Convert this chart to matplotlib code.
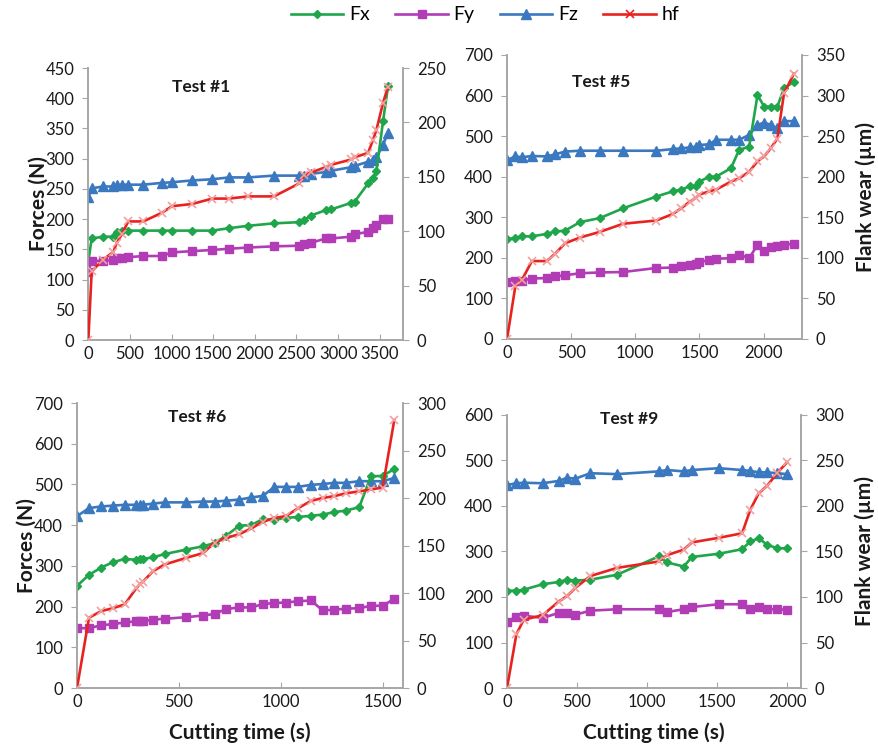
import matplotlib
matplotlib.use("Agg")
import matplotlib.pyplot as plt
from matplotlib.lines import Line2D

plt.rcParams['font.family'] = ['Lato', 'DejaVu Sans']

# ---------------- Test #1 ----------------
t1_time = [0, 40, 180, 300, 340, 400, 480, 660, 885, 1005, 1245, 1490, 1690, 1920, 2230, 2535, 2595,
           2675, 2855, 2915, 3160, 3200, 3360, 3420, 3460, 3540, 3600]
t1_fx = [130, 168, 171, 171, 179, 181, 181, 181, 181, 181, 181, 181, 185, 189, 193, 195, 199,
         206, 215, 216, 227, 229, 259, 268, 279, 362, 420]
t1_fy = [113, 131, 131, 132, 135, 136, 137, 139, 139, 145, 147, 149, 151, 153, 155, 156, 159,
         161, 168, 168, 171, 175, 179, 185, 190, 201, 201]
t1_fz = [236, 251, 254, 254, 256, 257, 257, 257, 260, 261, 264, 266, 269, 269, 272, 272, 272,
         275, 278, 280, 286, 288, 295, 298, 302, 323, 343]
t1_hf = [0, 63, 74, 81, 89, 97, 109, 109, 117, 123, 125, 130, 130, 132, 132, 144, 152,
         154, 159, 161, 166, 168, 172, 184, 193, 218, 233]

# ---------------- Test #5 ----------------
t5_time = [0, 65, 117, 194, 310, 375, 453, 569, 724, 905, 1164, 1293, 1358, 1423, 1474, 1500,
           1578, 1630, 1746, 1810, 1888, 1953, 2005, 2056, 2108, 2160, 2237]
t5_fx = [246, 249, 253, 253, 259, 265, 267, 288, 298, 322, 351, 364, 368, 376, 377, 388,
         400, 400, 421, 466, 474, 601, 573, 573, 573, 618, 634]
t5_fy = [140, 144, 144, 149, 150, 154, 157, 162, 164, 165, 175, 176, 181, 183, 185, 190,
         194, 198, 199, 208, 199, 232, 217, 226, 230, 232, 235]
t5_fz = [441, 450, 448, 451, 450, 455, 462, 464, 464, 464, 464, 468, 470, 472, 474, 478,
         480, 491, 491, 491, 503, 528, 533, 528, 519, 537, 537]
t5_hf = [0, 65, 73, 96, 96, 105, 118, 125, 132, 142, 146, 154, 161, 169, 174, 178,
         182, 184, 194, 198, 206, 219, 225, 235, 247, 303, 327]

# ---------------- Test #6 ----------------
t6_time = [0, 59, 119, 176, 234, 291, 307, 324, 373, 430, 536, 618, 675, 732, 797, 855,
           912, 969, 1026, 1083, 1148, 1205, 1262, 1320, 1385, 1442, 1500, 1557]
t6_fx = [251, 278, 296, 309, 317, 315, 316, 317, 321, 329, 340, 348, 356, 374, 399, 400,
         415, 413, 418, 420, 423, 426, 432, 436, 444, 520, 521, 538]
t6_fy = [147, 147, 154, 157, 161, 164, 164, 164, 168, 170, 174, 178, 182, 194, 198, 198,
         206, 209, 210, 213, 215, 191, 192, 195, 196, 202, 202, 219]
t6_fz = [422, 442, 446, 448, 450, 450, 450, 450, 453, 456, 456, 458, 458, 460, 463, 468,
         472, 494, 494, 494, 499, 501, 504, 504, 508, 508, 508, 516]
t6_hf = [0, 74, 81, 84, 88, 105, 109, 112, 123, 130, 137, 142, 153, 158, 162, 168,
         175, 179, 181, 189, 197, 200, 202, 205, 207, 209, 211, 282]

# ---------------- Test #9 ----------------
t9_time = [0, 67, 119, 255, 369, 429, 488, 595, 786, 1083, 1143, 1262, 1321, 1512, 1679,
           1738, 1798, 1857, 1929, 2000]
t9_fx = [214, 214, 216, 228, 233, 238, 236, 238, 249, 289, 276, 267, 288, 295, 305,
         322, 329, 315, 307, 307]
t9_fy = [146, 157, 159, 154, 165, 165, 161, 170, 173, 173, 167, 173, 178, 184, 184,
         173, 177, 173, 173, 172]
t9_fz = [446, 450, 451, 450, 455, 462, 460, 472, 470, 476, 479, 476, 479, 483, 479,
         477, 474, 474, 472, 470]
t9_hf = [0, 59, 75, 80, 95, 101, 110, 123, 132, 139, 146, 152, 160, 165, 170,
         196, 214, 222, 236, 248]

panels = [
    dict(title="Test #1", time=t1_time, fx=t1_fx, fy=t1_fy, fz=t1_fz, hf=t1_hf,
         xmax=3780, ymax=450, ystep=50, hmax=250, hstep=50,
         rect=(0.1005, 0.5436, 0.3580, 0.3651), tpos=(0.357, 0.93),
         left_label=True, right_label=False, x_label=False),
    dict(title="Test #5", time=t5_time, fx=t5_fx, fy=t5_fy, fz=t5_fz, hf=t5_hf,
         xmax=2300, ymax=700, ystep=100, hmax=350, hstep=50,
         rect=(0.5768, 0.5450, 0.3356, 0.3812), tpos=(0.32, 0.905),
         left_label=False, right_label=True, x_label=False),
    dict(title="Test #6", time=t6_time, fx=t6_fx, fy=t6_fy, fz=t6_fz, hf=t6_hf,
         xmax=1600, ymax=700, ystep=100, hmax=300, hstep=50,
         rect=(0.0876, 0.0765, 0.3709, 0.3825), tpos=(0.368, 0.95),
         left_label=True, right_label=False, x_label=True),
    dict(title="Test #9", time=t9_time, fx=t9_fx, fy=t9_fy, fz=t9_fz, hf=t9_hf,
         xmax=2100, ymax=600, ystep=100, hmax=300, hstep=50,
         rect=(0.5768, 0.0765, 0.3345, 0.3665), tpos=(0.415, 0.985),
         left_label=False, right_label=True, x_label=True),
]

C_FX = '#1fa64a'
C_FY = '#b23cb5'
C_FZ = '#3a78c0'
C_HF = '#e8231f'
C_HF_MK = '#f2a0a0'
AX_GRAY = '#a6a6a6'
TXT = '#1a1a1a'

fig = plt.figure(figsize=(8.79, 7.45), dpi=100)

for p in panels:
    ax = fig.add_axes(p['rect'])
    ax.plot(p['time'], p['fz'], color=C_FZ, lw=1.9, marker='^', ms=7, zorder=3)
    ax.plot(p['time'], p['fx'], color=C_FX, lw=1.9, marker='D', ms=4.2, zorder=3)
    ax.plot(p['time'], p['fy'], color=C_FY, lw=1.9, marker='s', ms=6.2, zorder=3)
    ax.set_xlim(0, p['xmax'])
    ax.set_ylim(0, p['ymax'])
    ax.set_yticks(range(0, p['ymax'] + 1, p['ystep']))
    ax.set_xticks(range(0, p['xmax'] + 1, 500))

    ax2 = ax.twinx()
    ax2.plot(p['time'], p['hf'], color=C_HF, lw=1.9, marker='x', ms=6,
             mec=C_HF_MK, mew=1.2, zorder=4)
    ax2.set_ylim(0, p['hmax'])
    ax2.set_yticks(range(0, p['hmax'] + 1, p['hstep']))

    for a in (ax, ax2):
        a.patch.set_visible(False)
        a.spines['top'].set_visible(False)
        for s in ('left', 'right', 'bottom'):
            a.spines[s].set_color(AX_GRAY)
            a.spines[s].set_linewidth(1.2)
    ax.tick_params(axis='y', direction='out', length=4, color=AX_GRAY,
                   labelsize=12, labelcolor=TXT, pad=6)
    ax.tick_params(axis='x', direction='in', length=4, color=AX_GRAY,
                   labelsize=12, labelcolor=TXT, pad=4)
    ax2.tick_params(axis='y', direction='out', length=4, color=AX_GRAY,
                    labelsize=12, labelcolor=TXT, pad=6)

    ax.text(p['tpos'][0], p['tpos'][1], p['title'], transform=ax.transAxes,
            ha='center', va='center', fontsize=12.5, fontweight='bold', color=TXT)
    if p['left_label']:
        ax.set_ylabel('Forces (N)', fontsize=15, fontweight='bold', color=TXT, labelpad=-2)
    if p['right_label']:
        ax2.set_ylabel('Flank wear (µm)', fontsize=15, fontweight='bold', color=TXT,
                       labelpad=8)
    if p['x_label']:
        ax.set_xlabel('Cutting time (s)', fontsize=15, fontweight='bold', color=TXT,
                      labelpad=9)

handles = [
    Line2D([], [], color=C_FX, lw=1.9, marker='D', ms=4.2),
    Line2D([], [], color=C_FY, lw=1.9, marker='s', ms=6.2),
    Line2D([], [], color=C_FZ, lw=1.9, marker='^', ms=7),
    Line2D([], [], color=C_HF, lw=1.9, marker='x', ms=6, mec=C_HF, mew=1.2),
]
fig.legend(handles, ['Fx', 'Fy', 'Fz', 'hf'], loc='center', bbox_to_anchor=(0.552, 0.98),
           ncol=4, frameon=False, fontsize=14, handlelength=2.7, columnspacing=1.3,
           handletextpad=0.3)

fig.savefig('out.png', dpi=100)
